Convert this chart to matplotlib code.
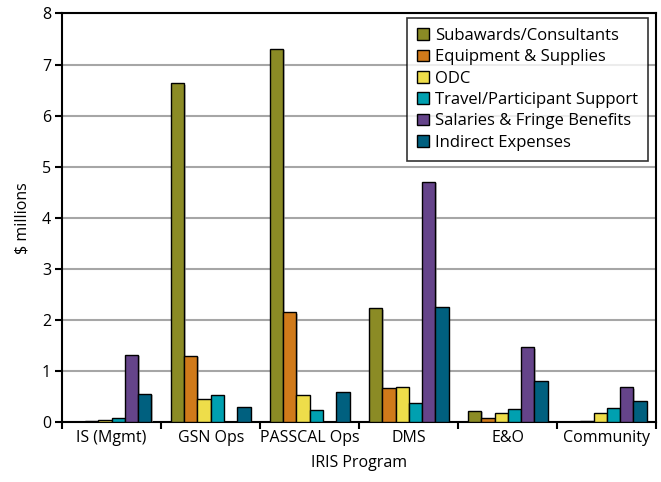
import matplotlib.pyplot as plt
import matplotlib.patheffects as pe
from matplotlib.patches import Patch
import numpy as np

plt.rcParams['font.family'] = ['Open Sans', 'DejaVu Sans']

# Programs
programs = ['IS (Mgmt)', 'GSN Ops', 'PASSCAL Ops', 'DMS', 'E&O', 'Community']

# Expense categories ($ millions)
subawards = [0.0, 6.63, 7.31, 2.23, 0.22, 0.0]
equipment = [0.01, 1.30, 2.15, 0.66, 0.07, 0.01]
odc = [0.03, 0.46, 0.52, 0.68, 0.18, 0.17]
travel = [0.07, 0.52, 0.23, 0.38, 0.26, 0.27]
salaries = [1.31, 0.0, 0.0, 4.70, 1.46, 0.68]
indirect = [0.55, 0.29, 0.59, 2.25, 0.80, 0.42]

series = [subawards, equipment, odc, travel, salaries, indirect]
labels = ['Subawards/Consultants', 'Equipment & Supplies', 'ODC',
          'Travel/Participant Support', 'Salaries & Fringe Benefits',
          'Indirect Expenses']
colors = ['#8b8b25', '#d07a1a', '#eedd4a', '#00a0b0', '#65448a', '#00607f']

fig = plt.figure(figsize=(6.61, 4.82), dpi=100)
ax = fig.add_axes([0.094, 0.1245, 0.899, 0.8475])

x = np.arange(len(programs))
width = 0.134
shadow = [pe.SimplePatchShadow(offset=(1, -1), shadow_rgbFace='#999999', alpha=0.6), pe.Normal()]
for i, (vals, col) in enumerate(zip(series, colors)):
    pos = x - 2.5 * width + i * width
    bars = ax.bar(pos, vals, width, color=col, edgecolor='black', linewidth=1.0, zorder=3)
    for b, v in zip(bars, vals):
        if v == 0:
            b.set_visible(False)
        b.set_path_effects(shadow)

ax.set_xlim(-0.5, len(programs) - 0.5)
ax.set_ylim(0, 8)
ax.set_yticks(range(0, 9))
ax.yaxis.grid(True, color='#a6a6a6', linewidth=1.5, zorder=0)

ax.set_xticks(np.arange(-0.5, len(programs), 1.0))
ax.set_xticklabels([])
ax.set_xticks(x, minor=True)
ax.set_xticklabels(programs, minor=True, fontsize=11.5)
ax.tick_params(axis='x', which='major', direction='out', length=5, width=1.5)
ax.tick_params(axis='x', which='minor', length=0, pad=6)
ax.tick_params(axis='y', direction='out', length=5, width=1.5, labelsize=11.5, pad=3)

for s in ax.spines.values():
    s.set_linewidth(1.5)

ax.set_xlabel('IRIS Program', fontsize=11.5, labelpad=6)
ax.set_ylabel('$ millions', fontsize=11.5, labelpad=8)

handles = [Patch(facecolor=c, edgecolor='black', linewidth=1.0, label=l)
           for c, l in zip(colors, labels)]
leg = ax.legend(handles=handles, loc='upper right', bbox_to_anchor=(0.9865, 0.989),
                fontsize=12, frameon=True, fancybox=False, edgecolor='black',
                handlelength=0.7, handleheight=0.7, handletextpad=0.4,
                labelspacing=0.32, borderpad=0.6, borderaxespad=0)
leg.get_frame().set_linewidth(1.2)

fig.savefig('out.png', dpi=100)
